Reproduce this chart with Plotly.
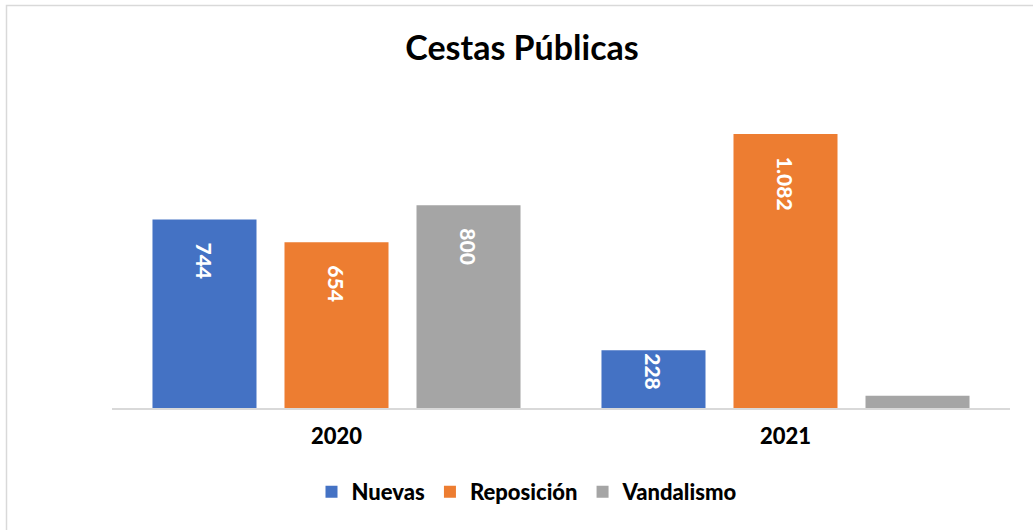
import plotly.graph_objects as go

categories = ["2020", "2021"]
series_names = ["Nuevas", "Reposición", "Vandalismo"]
nuevas = [744, 228]
reposicion = [654, 1082]
vandalismo = [800, 48]
colors = ["#4472C4", "#ED7D31", "#A5A5A5"]

FONT = "Lato"
NBSP = "\u00a0"


def fmt(v):
    if v < 100:
        return ""
    s = f"{v:,}".replace(",", ".")
    pad = NBSP * 4 if v > 400 else ""
    return pad + s


fig = go.Figure()
for name, vals, col in zip(series_names, [nuevas, reposicion, vandalismo], colors):
    fig.add_trace(go.Bar(
        x=categories, y=vals, name=name,
        marker=dict(color=col, line=dict(width=0)),
        text=[fmt(v) for v in vals],
        textposition="inside", insidetextanchor="end", textangle=90,
        textfont=dict(color="white", size=21, family=FONT, weight=900),
        constraintext="none",
        hoverinfo="x+y+name",
    ))

W, H = 1033, 530
L = 112
T = 104
pw = 898
ph = 304
R = W - L - pw
B = H - T - ph


def px(xs):
    return (xs - L) / pw


def py(ys):
    return (T + ph - ys) / ph


fig.update_layout(
    width=W, height=H,
    margin=dict(l=L, r=R, t=T, b=B),
    paper_bgcolor="white", plot_bgcolor="white",
    barmode="group", bargap=0.118, bargroupgap=0.212,
    title=dict(text="<b>Cestas Públicas</b>", x=522 / W, xanchor="center",
               y=1 - 48 / H, yanchor="middle",
               font=dict(family=FONT, size=34, color="black")),
    font=dict(family=FONT, color="black"),
    xaxis=dict(showline=True, linecolor="#d9d9d9", linewidth=1.5,
               showgrid=False, zeroline=False, ticks="",
               tickfont=dict(family=FONT, size=22, color="black", weight=900),
               ticklabelstandoff=8),
    yaxis=dict(range=[0, 1200], visible=False),
    legend=dict(orientation="h", x=px(527), xanchor="center",
                y=py(492), yanchor="middle",
                font=dict(family=FONT, size=22, color="black", weight=900),
                itemwidth=30, traceorder="normal"),
    showlegend=True,
    shapes=[dict(type="rect", xref="paper", yref="paper",
                 x0=px(6.5), x1=px(1045),
                 y0=py(545), y1=py(5.5),
                 line=dict(color="#d9d9d9", width=1.5), layer="below")],
)

fig.write_html(
    "out.html",
    config={"displayModeBar": False},
    post_script="document.body.style.margin='0';document.body.style.overflow='hidden';",
)
